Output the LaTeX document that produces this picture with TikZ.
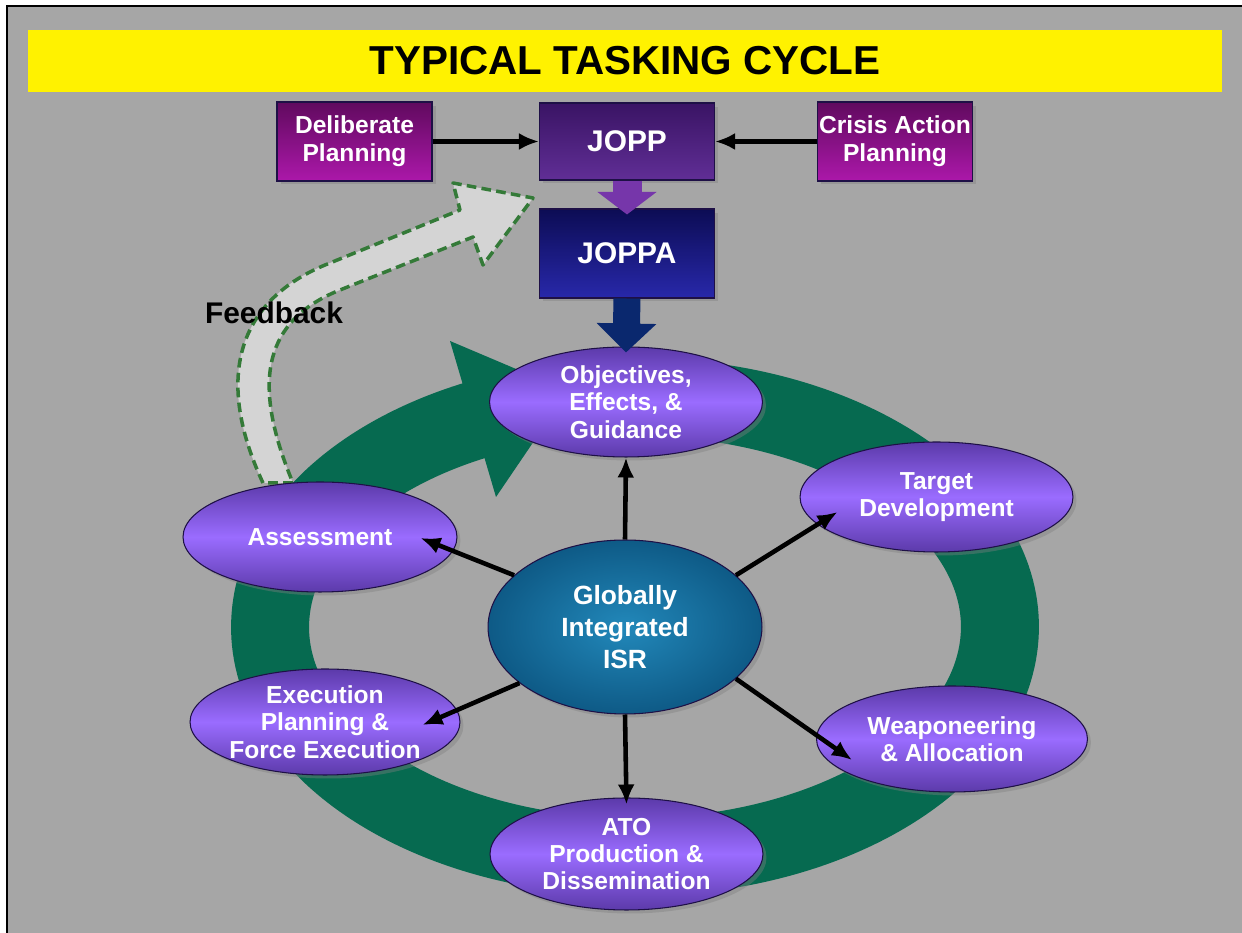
\documentclass[tikz,border=0pt]{standalone}
\usepackage{fontspec}
\setmainfont{Liberation Sans}
\usepackage{tikz}
\usetikzlibrary{arrows,arrows.meta,positioning,shapes.geometric,shadows}

\definecolor{slidegrey}{RGB}{166,166,166}
\definecolor{ringgreen}{RGB}{6,106,80}
\definecolor{dashgreen}{RGB}{52,122,56}
\definecolor{fbgrey}{RGB}{212,212,212}
\definecolor{magtop}{RGB}{96,10,94}
\definecolor{magbot}{RGB}{172,24,170}
\definecolor{jopptop}{RGB}{58,20,100}
\definecolor{joppbot}{RGB}{96,46,150}
\definecolor{joppatop}{RGB}{12,12,84}
\definecolor{joppabot}{RGB}{40,40,170}
\definecolor{ovaldark}{RGB}{92,58,170}
\definecolor{ovallight}{RGB}{154,108,255}
\definecolor{isrin}{RGB}{34,136,186}
\definecolor{isrout}{RGB}{14,90,134}
\definecolor{purplearrow}{RGB}{118,54,170}
\definecolor{navyarrow}{RGB}{10,40,110}
\definecolor{outline}{RGB}{30,16,70}

\begin{document}
\begin{tikzpicture}[x=0.02cm, y=0.02cm,
		shade/.style={drop shadow={shadow xshift=2pt, shadow yshift=-2pt, opacity=0.4}},
		plan/.style={rectangle, draw=outline, line width=0.6pt, top color=magtop, bottom color=magbot, text=white, align=center, inner sep=0pt, font=\bfseries\fontsize{14}{16}\selectfont, minimum width=3.1cm, minimum height=1.58cm, shade},
		jbox/.style={rectangle, draw=outline, line width=0.6pt, text=white, inner sep=0pt, font=\bfseries\fontsize{17}{20}\selectfont, minimum width=3.5cm, shade},
		oval/.style={ellipse, draw=outline, line width=0.6pt, top color=ovaldark, bottom color=ovaldark, middle color=ovallight, text=white, align=center, inner sep=-4pt, font=\bfseries\fontsize{14}{15.5}\selectfont, minimum width=5.46cm, minimum height=2.2cm, shade},
		conn/.style={-{Latex[length=0.4cm, width=0.34cm]}, line width=2.6pt, black},
		blockdown/.style={draw=#1, line width=0.58cm, -{Triangle[width=1.16cm, length=0.45cm]}},
		ring/.style={draw=ringgreen, line width=1.56cm},
		feedback/.style={fill=fbgrey, draw=dashgreen, line width=2pt, dash pattern=on 5.5pt off 3pt, line join=round}
	]
	\useasboundingbox (0,0) rectangle (1242,933);
	\fill[white] (0,0) rectangle (1242,933);
	\fill[slidegrey] (7,0) rectangle (1242,927);
	\draw[line width=1.2pt] (7,0) -- (7,927) -- (1242,927);

	\node[fill=yellow, minimum width=23.9cm, minimum height=1.24cm, inner sep=0pt, font=\bfseries\fontsize{23}{27}\selectfont] (title) at (625,872) {TYPICAL TASKING CYCLE};

	\draw[feedback] (263,450) .. controls (215,553) and (235,633) .. (330,670) -- (460,723) -- (453,750) -- (533,735) -- (483,668) -- (473,696) -- (340,643) .. controls (265,613) and (250,553) .. (293,450) -- cycle;
	\node[font=\bfseries\fontsize{17}{20}\selectfont] (fb) at (274,620) {Feedback};

	\coordinate (ringc) at (635,306);
	\coordinate (headA) at (450,592);
	\coordinate (headB) at (496,436);
	\coordinate (headtip) at (568,542);
	\draw[ring] (ringc) ++(85:7.3cm and 4.6cm) arc[start angle=85, end angle=-245, x radius=7.3cm, y radius=4.6cm];
	\fill[ringgreen] (headA) -- (headtip) -- (headB) -- cycle;

	\node[plan] (del) at (354.5,791.5) {Deliberate\\Planning};
	\node[jbox, top color=jopptop, bottom color=joppbot, minimum height=1.54cm] (jopp) at (627,791.5) {JOPP};
	\node[plan] (cap) at (895,791.5) {Crisis Action\\Planning};
	\node[jbox, top color=joppatop, bottom color=joppabot, minimum height=1.78cm] (joppa) at (627,679.5) {JOPPA};

	\node[oval] (obj) at (626,531) {Objectives,\\Effects, \&\\Guidance};
	\node[oval] (tgt) at (936.5,436) {Target\\Development};
	\node[oval, minimum width=5.48cm] (asm) at (320,396) {Assessment};
	\node[oval, minimum width=5.4cm, minimum height=2.12cm] (exe) at (325,211) {Execution\\Planning \&\\Force Execution};
	\node[oval, minimum width=5.42cm, minimum height=2.12cm] (wpn) at (952,194) {Weaponeering\\\& Allocation};
	\node[oval, minimum height=2.24cm] (ato) at (626.5,79) {ATO\\Production \&\\Dissemination};
	\node[ellipse, draw=outline, line width=0.6pt, inner color=isrin, outer color=isrout, text=white, align=center, inner sep=0pt, font=\bfseries\fontsize{15}{18}\selectfont, minimum width=5.48cm, minimum height=3.48cm, shade] (isr) at (625,306) {Globally\\Integrated\\ISR};

	\draw[conn] (del.east) -- (jopp.west);
	\draw[conn] (cap.west) -- (jopp.east);
	\draw[blockdown=purplearrow] (jopp.south) -- ([yshift=-0.12cm]joppa.north);
	\draw[blockdown=navyarrow, line width=0.54cm, -{Triangle[width=1.16cm, length=0.58cm]}] (joppa.south) -- ([yshift=-0.12cm]obj.north);

	\draw[conn] (isr.north) -- (obj.south);
	\draw[conn] (isr.25) -- ([shift={(38,-15)}]tgt.west);
	\draw[conn] (isr.155) -- ([shift={(-37,-1)}]asm.east);
	\draw[conn] (isr.208) -- ([shift={(-38,-3)}]exe.east);
	\draw[conn] (isr.335) -- ([shift={(36,-21)}]wpn.west);
	\draw[conn] (isr.south) -- ([yshift=-0.14cm]ato.north);
\end{tikzpicture}
\end{document}
